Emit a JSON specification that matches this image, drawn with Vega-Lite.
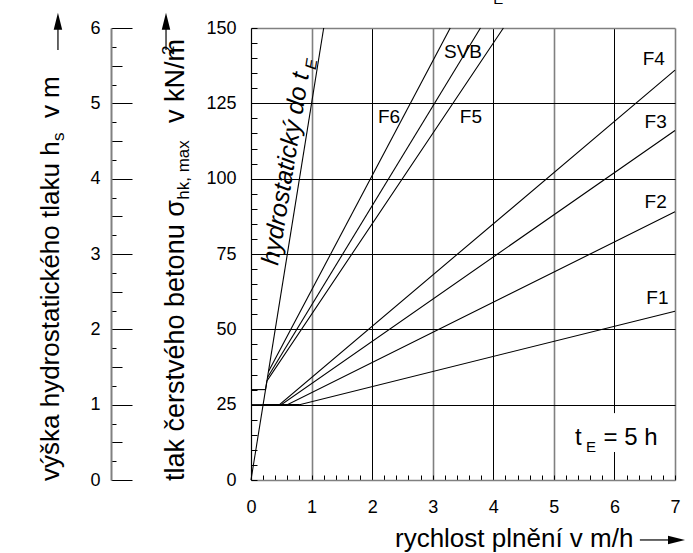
{
  "$schema": "https://vega.github.io/schema/vega-lite/v6.json",
  "width": 424,
  "height": 452,
  "autosize": "none",
  "padding": {"left": 251, "top": 28, "right": 18, "bottom": 73},
  "config": {"font": "Liberation Sans", "view": {"stroke": null}, "text": {"font": "Liberation Sans", "color": "black"}},
  "datasets": {
    "lines": [
      {"s": "p25", "v": 0, "p": 25}, {"s": "p25", "v": 0.2, "p": 25},
      {"s": "p30", "v": 0, "p": 30}, {"s": "p30", "v": 0.24, "p": 30},
      {"s": "F1", "v": 0.2, "p": 25}, {"s": "F1", "v": 0.8, "p": 25}, {"s": "F1", "v": 7, "p": 56},
      {"s": "F2", "v": 0.2, "p": 25}, {"s": "F2", "v": 0.6, "p": 25}, {"s": "F2", "v": 7, "p": 89},
      {"s": "F3", "v": 0.2, "p": 25}, {"s": "F3", "v": 0.5, "p": 25}, {"s": "F3", "v": 7, "p": 116},
      {"s": "F4", "v": 0.2, "p": 25}, {"s": "F4", "v": 0.47, "p": 25}, {"s": "F4", "v": 7, "p": 136},
      {"s": "F5", "v": 0.24, "p": 30}, {"s": "F5", "v": 0.263, "p": 32.9}, {"s": "F5", "v": 4.167, "p": 150},
      {"s": "SVB", "v": 0.272, "p": 34.0}, {"s": "SVB", "v": 3.788, "p": 150},
      {"s": "F6", "v": 0.287, "p": 35.9}, {"s": "F6", "v": 3.289, "p": 150}
    ],
    "hydro": [{"v": 0, "p": 0}, {"v": 1.2, "p": 150}],
    "curve_labels": [
      {"t": "F1", "x": 6.71, "y": 60.4},
      {"t": "F2", "x": 6.68, "y": 92.1},
      {"t": "F3", "x": 6.68, "y": 118.7},
      {"t": "F4", "x": 6.65, "y": 139.7},
      {"t": "F5", "x": 3.63, "y": 120.3},
      {"t": "F6", "x": 2.28, "y": 120.3},
      {"t": "SVB", "x": 3.5, "y": 141.9}
    ],
    "ytitle_main": [
      {"t": "tlak čerstvého betonu σ", "x": -1.114, "y": -0.33},
      {"t": "v kN/m", "x": -1.114, "y": 118.5}
    ],
    "ytitle_sec": [
      {"t": "výška hydrostatického tlaku h", "x": -3.17, "y": -0.33},
      {"t": "v m", "x": -3.17, "y": 120.1}
    ],
    "vtitle_small": [
      {"t": "hk, max", "x": -1.023, "y": 93.0},
      {"t": "2", "x": -1.263, "y": 141},
      {"t": "s", "x": -3.088, "y": 112.5}
    ],
    "xtitle": [{"t": "rychlost plnění v m/h", "x": 2.377, "y": -22.1}],
    "te_bg": [{"x": 5.93, "x2": 6.07, "y": 9.3, "y2": 22.2}],
    "te_big": [{"t": "t", "x": 5.35, "y": 11.6}, {"t": "= 5 h", "x": 5.82, "y": 11.6}],
    "te_small": [{"t": "E", "x": 5.53, "y": 9.3}, {"t": "E", "x": 4.0, "y": 158.0}],
    "hydro_label": [{"t": "hydrostatický do t", "x": 0.446, "y": 71.0}],
    "hydro_sub": [{"t": "E", "x": 1.07, "y": 136.0}],
    "arrow_v": [{"x": -1.403, "y": 142.7, "y2": 150}, {"x": -3.187, "y": 142.7, "y2": 150}],
    "arrow_v_head": [{"x": -1.403, "y": 152.2}, {"x": -3.187, "y": 152.2}],
    "arrow_h": [{"x": 6.42, "x2": 6.92, "y": -19.9}],
    "arrow_h_head": [{"x": 7.025, "y": -19.9}]
  },
  "encoding": {
    "x": {
      "type": "quantitative",
      "scale": {"domain": [0, 7], "nice": false, "zero": false},
      "axis": {
        "title": null,
        "values": [0,0.2,0.4,0.6,0.8,1,1.2,1.4,1.6,1.8,2,2.2,2.4,2.6,2.8,3,3.2,3.4,3.6,3.8,4,4.2,4.4,4.6,4.8,5,5.2,5.4,5.6,5.8,6,6.2,6.4,6.6,6.8,7],
        "labelExpr": "abs(datum.value - round(datum.value)) < 0.01 ? format(datum.value, 'd') : ''",
        "labelFontSize": 18, "labelColor": "black", "labelPadding": 23,
        "labelFlush": false, "labelOverlap": false,
        "tickSize": -5, "tickColor": "black", "tickWidth": 1,
        "domainColor": "#808080", "domainWidth": 1.6,
        "grid": true,
        "gridOpacity": {"condition": {"test": "abs(datum.value - round(datum.value)) < 0.01 && datum.value > 0", "value": 1}, "value": 0},
        "gridColor": {"condition": {"test": "round(datum.value) % 2 == 1", "value": "#808080"}, "value": "black"},
        "gridWidth": {"condition": {"test": "round(datum.value) % 2 == 1", "value": 1.6}, "value": 1}
      }
    },
    "y": {"type": "quantitative", "scale": {"domain": [0, 150], "nice": false, "zero": false}}
  },
  "layer": [
    {
      "data": {"name": "te_bg"},
      "mark": {"type": "rect", "color": "white", "opacity": 1},
      "encoding": {
        "x": {"field": "x", "type": "quantitative"},
        "x2": {"field": "x2"},
        "y": {"field": "y", "type": "quantitative", "axis": null},
        "y2": {"field": "y2"}
      }
    },
    {
      "data": {"name": "lines"},
      "mark": {"type": "line", "color": "black", "strokeWidth": 1.1},
      "encoding": {
        "x": {"field": "v", "type": "quantitative"},
        "y": {
          "field": "p", "type": "quantitative",
          "axis": {
            "title": null,
            "values": [0,5,10,15,20,25,30,35,40,45,50,55,60,65,70,75,80,85,90,95,100,105,110,115,120,125,130,135,140,145,150],
            "labelExpr": "datum.value % 25 == 0 ? datum.label : ''",
            "labelFontSize": 18, "labelColor": "black", "labelPadding": 21,
            "labelFlush": false, "labelOverlap": false,
            "tickSize": -6, "tickColor": "black", "tickWidth": 1,
            "domainColor": "black", "domainWidth": 1.2,
            "grid": true,
            "gridOpacity": {"condition": {"test": "datum.value % 25 == 0 && datum.value > 0", "value": 1}, "value": 0},
            "gridColor": {"condition": {"test": "datum.value == 150", "value": "#808080"}, "value": "black"},
            "gridWidth": {"condition": {"test": "datum.value == 150", "value": 1.6}, "value": 1}
          }
        },
        "detail": {"field": "s"}
      }
    },
    {
      "data": {"name": "hydro"},
      "mark": {"type": "line", "color": "black", "strokeWidth": 1.1},
      "encoding": {
        "x": {"field": "v", "type": "quantitative"},
        "y": {
          "field": "p", "type": "quantitative",
          "axis": {
            "orient": "left", "offset": 140, "title": null,
            "values": [0,6.25,12.5,18.75,25,31.25,37.5,43.75,50,56.25,62.5,68.75,75,81.25,87.5,93.75,100,106.25,112.5,118.75,125,131.25,137.5,143.75,150],
            "labelExpr": "datum.value % 25 == 0 ? format(datum.value / 25, 'd') : ''",
            "labelFontSize": 18, "labelColor": "black", "labelPadding": 32,
            "labelFlush": false, "labelOverlap": false,
            "tickSize": {"expr": "datum.value % 25 == 0 ? -21 : (datum.value % 12.5 == 0 ? -11 : -5)"},
            "tickColor": "black", "tickWidth": 1,
            "domainColor": "#808080", "domainWidth": 2,
            "grid": false
          }
        }
      }
    },
    {
      "data": {"name": "curve_labels"},
      "mark": {"type": "text", "fontSize": 19, "align": "center", "baseline": "middle"},
      "encoding": {
        "x": {"field": "x", "type": "quantitative"},
        "y": {"field": "y", "type": "quantitative", "axis": null},
        "text": {"field": "t"}
      }
    },
    {
      "data": {"name": "ytitle_main"},
      "mark": {"type": "text", "fontSize": 27, "align": "left", "baseline": "alphabetic", "angle": -90},
      "encoding": {
        "x": {"field": "x", "type": "quantitative"},
        "y": {"field": "y", "type": "quantitative", "axis": null},
        "text": {"field": "t"}
      }
    },
    {
      "data": {"name": "ytitle_sec"},
      "mark": {"type": "text", "fontSize": 26, "align": "left", "baseline": "alphabetic", "angle": -90},
      "encoding": {
        "x": {"field": "x", "type": "quantitative"},
        "y": {"field": "y", "type": "quantitative", "axis": null},
        "text": {"field": "t"}
      }
    },
    {
      "data": {"name": "vtitle_small"},
      "mark": {"type": "text", "fontSize": 17, "align": "left", "baseline": "alphabetic", "angle": -90},
      "encoding": {
        "x": {"field": "x", "type": "quantitative"},
        "y": {"field": "y", "type": "quantitative", "axis": null},
        "text": {"field": "t"}
      }
    },
    {
      "data": {"name": "xtitle"},
      "mark": {"type": "text", "fontSize": 26, "align": "left", "baseline": "alphabetic"},
      "encoding": {
        "x": {"field": "x", "type": "quantitative"},
        "y": {"field": "y", "type": "quantitative", "axis": null},
        "text": {"field": "t"}
      }
    },
    {
      "data": {"name": "te_big"},
      "mark": {"type": "text", "fontSize": 24, "align": "left", "baseline": "alphabetic"},
      "encoding": {
        "x": {"field": "x", "type": "quantitative"},
        "y": {"field": "y", "type": "quantitative", "axis": null},
        "text": {"field": "t"}
      }
    },
    {
      "data": {"name": "te_small"},
      "mark": {"type": "text", "fontSize": 15, "align": "left", "baseline": "alphabetic"},
      "encoding": {
        "x": {"field": "x", "type": "quantitative"},
        "y": {"field": "y", "type": "quantitative", "axis": null},
        "text": {"field": "t"}
      }
    },
    {
      "data": {"name": "hydro_label"},
      "mark": {"type": "text", "fontSize": 25, "fontStyle": "italic", "align": "left", "baseline": "alphabetic", "angle": -80.86},
      "encoding": {
        "x": {"field": "x", "type": "quantitative"},
        "y": {"field": "y", "type": "quantitative", "axis": null},
        "text": {"field": "t"}
      }
    },
    {
      "data": {"name": "hydro_sub"},
      "mark": {"type": "text", "fontSize": 16, "fontStyle": "italic", "align": "left", "baseline": "alphabetic", "angle": -80.86},
      "encoding": {
        "x": {"field": "x", "type": "quantitative"},
        "y": {"field": "y", "type": "quantitative", "axis": null},
        "text": {"field": "t"}
      }
    },
    {
      "data": {"name": "arrow_v"},
      "mark": {"type": "rule", "color": "black", "strokeWidth": 1.2},
      "encoding": {
        "x": {"field": "x", "type": "quantitative"},
        "y": {"field": "y", "type": "quantitative", "axis": null},
        "y2": {"field": "y2"}
      }
    },
    {
      "data": {"name": "arrow_v_head"},
      "mark": {"type": "point", "shape": "M0,-1L0.5,1L-0.5,1Z", "filled": true, "color": "black", "opacity": 1, "size": 289},
      "encoding": {
        "x": {"field": "x", "type": "quantitative"},
        "y": {"field": "y", "type": "quantitative", "axis": null}
      }
    },
    {
      "data": {"name": "arrow_h"},
      "mark": {"type": "rule", "color": "black", "strokeWidth": 1.2},
      "encoding": {
        "x": {"field": "x", "type": "quantitative"},
        "x2": {"field": "x2"},
        "y": {"field": "y", "type": "quantitative", "axis": null}
      }
    },
    {
      "data": {"name": "arrow_h_head"},
      "mark": {"type": "point", "shape": "M1,0L-1,0.5L-1,-0.5Z", "filled": true, "color": "black", "opacity": 1, "size": 289},
      "encoding": {
        "x": {"field": "x", "type": "quantitative"},
        "y": {"field": "y", "type": "quantitative", "axis": null}
      }
    }
  ],
  "resolve": {"axis": {"y": "independent"}}
}
